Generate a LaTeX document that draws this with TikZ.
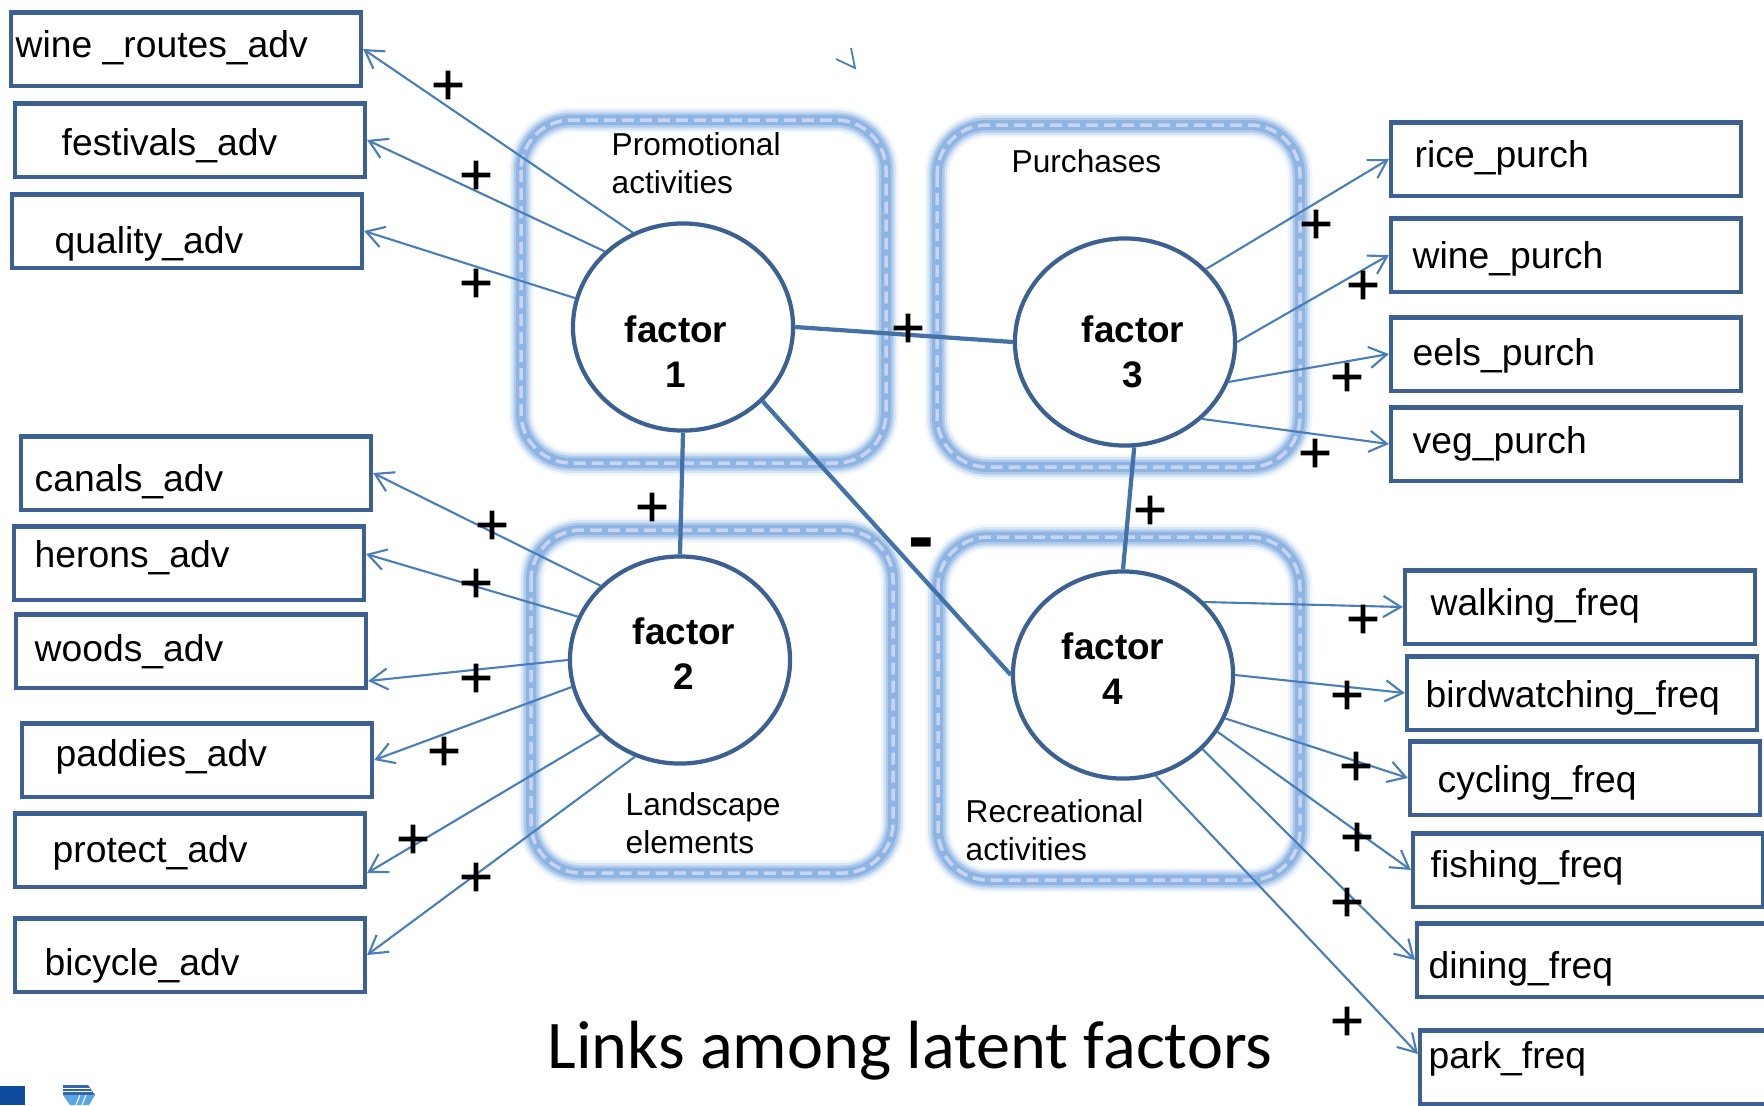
\documentclass[tikz,border=0pt]{standalone}
\usepackage{fontspec}
\setmainfont{Liberation Sans}
\newfontfamily\titlefont{Carlito}
\newfontfamily\signfont[UprightFeatures={FakeBold=2.5}]{DejaVu Sans}
\usetikzlibrary{shapes.geometric}
\usetikzlibrary{arrows.meta}
\usetikzlibrary{calc}
\definecolor{boxblue}{RGB}{60,96,145}
\definecolor{linkblue}{RGB}{74,126,187}
\definecolor{glowblue}{RGB}{141,180,226}
\definecolor{dashblue}{RGB}{200,212,240}
\definecolor{logoblue}{RGB}{14,76,160}
\definecolor{logolight}{RGB}{90,165,230}
\tikzset{itembox/.style={draw=boxblue, line width=1.15pt, minimum width=3.5cm, minimum height=0.73cm, inner sep=0pt},
 itemtext/.style={anchor=base west, inner sep=0pt, font=\fontsize{10.6}{12.7}\selectfont},
 factor/.style={ellipse, draw=boxblue, line width=1.2pt, fill=white, minimum width=2.2cm, minimum height=2.07cm, inner sep=0pt},
 factext/.style={align=center, inner sep=0pt, font=\bfseries\fontsize{10.5}{12.8}\selectfont},
 grouplabel/.style={align=left, inner sep=0pt, font=\fontsize{9}{10.8}\selectfont},
 groupframe/.style={rounded corners=0.5cm,
  preaction={draw=glowblue, opacity=0.12, line width=0.25cm},
  preaction={draw=glowblue, opacity=0.25, line width=0.2cm},
  preaction={draw=glowblue, opacity=0.55, line width=0.15cm},
  draw=glowblue, line width=0.1cm,
  postaction={draw=dashblue, line width=0.035cm, dash pattern=on 0.12cm off 0.06cm}},
 link/.style={draw=linkblue, line width=0.6pt, -{Straight Barb[length=5pt,width=6pt]}},
 tie/.style={draw=linkblue!90!black, line width=1.2pt},
 sign/.style={inner sep=0pt, font=\signfont\fontsize{12.5}{12.5}\selectfont},
 title/.style={anchor=base, inner sep=0pt, font=\titlefont\fontsize{19.4}{22}\selectfont},
 }

\begin{document}
\begin{tikzpicture}[x=0.01cm, y=-0.01cm]
        \useasboundingbox (0, 0) rectangle (1764, 1105);

        \draw[groupframe] (521, 120) rectangle (886, 463);
        \draw[groupframe] (937, 125) rectangle (1300, 467);
        \draw[groupframe] (531, 530) rectangle (893, 873);
        \draw[groupframe] (938, 537) rectangle (1300, 880);

        \node[grouplabel, anchor=north west] (promo) at (611, 132) {Promotional\\activities};
        \node[grouplabel, anchor=base west] (purch) at (1011, 172) {Purchases};
        \node[grouplabel, anchor=north west] (land) at (625, 792) {Landscape\\elements};
        \node[grouplabel, anchor=north west] (recr) at (965, 799) {Recreational\\activities};

        \node[factor] (f1) at (683, 327) {};
        \node[factor] (f2) at (680, 660) {};
        \node[factor] (f3) at (1125, 342) {};
        \node[factor] (f4) at (1123, 675) {};
        \node[factext] (t1) at (676, 352) {factor\\1};
        \node[factext] (t2) at (684, 654) {factor\\2};
        \node[factext] (t3) at (1133, 352) {factor\\3};
        \node[factext] (t4) at (1113, 669) {factor\\4};

        \draw[tie] (f1.east) -- (f3.west);
        \draw[tie] (f1.south) -- (f2.north);
        \draw[tie] (f1.-43) -- (f4.west);
        \draw[tie] (f3.-85) -- (f4.north);

        \node[itembox] (wra) at (186, 49) {};
        \node[itembox] (fes) at (190, 140) {};
        \node[itembox] (qua) at (187, 231) {};
        \node[itembox] (can) at (196, 473) {};
        \node[itembox] (her) at (189, 563) {};
        \node[itembox] (woo) at (191, 651) {};
        \node[itembox] (pad) at (197, 760) {};
        \node[itembox] (pro) at (190, 850) {};
        \node[itembox] (bic) at (190, 955) {};
        \node[itemtext] (wra-t) at (15, 57) {wine \_routes\_adv};
        \node[itemtext] (fes-t) at (61, 155) {festivals\_adv};
        \node[itemtext] (qua-t) at (54, 253) {quality\_adv};
        \node[itemtext] (can-t) at (34, 491) {canals\_adv};
        \node[itemtext] (her-t) at (34, 567) {herons\_adv};
        \node[itemtext] (woo-t) at (34, 661) {woods\_adv};
        \node[itemtext] (pad-t) at (55, 766) {paddies\_adv};
        \node[itemtext] (pro-t) at (52, 862) {protect\_adv};
        \node[itemtext] (bic-t) at (44, 975) {bicycle\_adv};

        \node[itembox] (ric) at (1566, 159) {};
        \node[itembox] (wip) at (1566, 255) {};
        \node[itembox] (eel) at (1566, 354) {};
        \node[itembox] (veg) at (1566, 444) {};
        \node[itembox] (wal) at (1580, 607) {};
        \node[itembox] (bir) at (1582, 693) {};
        \node[itembox] (cyc) at (1585, 778) {};
        \node[itembox] (fis) at (1588, 870) {};
        \node[itembox] (din) at (1592, 960) {};
        \node[itembox] (par) at (1595, 1067) {};
        \node[itemtext] (ric-t) at (1414, 167) {rice\_purch};
        \node[itemtext] (wip-t) at (1412, 268) {wine\_purch};
        \node[itemtext] (eel-t) at (1412, 365) {eels\_purch};
        \node[itemtext] (veg-t) at (1412, 453) {veg\_purch};
        \node[itemtext] (wal-t) at (1430, 615) {walking\_freq};
        \node[itemtext] (bir-t) at (1425, 707) {birdwatching\_freq};
        \node[itemtext] (cyc-t) at (1437, 792) {cycling\_freq};
        \node[itemtext] (fis-t) at (1430, 877) {fishing\_freq};
        \node[itemtext] (din-t) at (1428, 978) {dining\_freq};
        \node[itemtext] (par-t) at (1428, 1068) {park\_freq};

        \draw[link] (f1.118) -- (wra.east);
        \draw[link] (f1.136) -- (fes.east);
        \draw[link] (f1.165) -- (qua.east);
        \draw[link] (f2.137) -- (can.east);
        \draw[link] (f2.157) -- ([yshift=0.09cm]her.east);
        \draw[link] (f2.180) -- ([yshift=-0.3cm]woo.east);
        \draw[link] (f2.194) -- (pad.east);
        \draw[link] (f2.223) -- ([yshift=-0.23cm]pro.east);
        \draw[link] (f2.245) -- (bic.east);
        \draw[link] (f3.42) -- (ric.west);
        \draw[link] (f3.east) -- (wip.west);
        \draw[link] (f3.-21) -- (eel.west);
        \draw[link] (f3.-45) -- (veg.west);
        \draw[link] (f4.42) -- (wal.west);
        \draw[link] (f4.east) -- (bir.west);
        \draw[link] (f4.-23) -- (cyc.west);
        \draw[link] (f4.-31) -- (fis.west);
        \draw[link] (f4.-43) -- (din.west);
        \draw[link] (f4.-72) -- ([yshift=0.13cm]par.west);

        \node[sign] (s1) at (448, 85) {+};
        \node[sign] (s2) at (476, 175) {+};
        \node[sign] (s3) at (476, 283) {+};
        \node[sign] (s4) at (492, 525) {+};
        \node[sign] (s5) at (476, 583) {+};
        \node[sign] (s6) at (476, 678) {+};
        \node[sign] (s7) at (444, 751) {+};
        \node[sign] (s8) at (413, 839) {+};
        \node[sign] (s9) at (476, 877) {+};
        \node[sign] (s10) at (908, 328) {+};
        \node[sign] (s11) at (652, 507) {+};
        \node[sign, font=\bfseries\fontsize{22}{22}\selectfont] (s12) at (921, 550) {-};
        \node[sign] (s13) at (1150, 510) {+};
        \node[sign] (s14) at (1316, 224) {+};
        \node[sign] (s15) at (1363, 285) {+};
        \node[sign] (s16) at (1347, 377) {+};
        \node[sign] (s17) at (1315, 453) {+};
        \node[sign] (s18) at (1363, 619) {+};
        \node[sign] (s19) at (1347, 695) {+};
        \node[sign] (s20) at (1356, 766) {+};
        \node[sign] (s21) at (1357, 837) {+};
        \node[sign] (s22) at (1347, 902) {+};
        \node[sign] (s23) at (1347, 1021) {+};

        \draw[linkblue, line width=0.5pt] (851, 48) -- (855, 68) -- (836, 59);

        \node[title] (ttl) at (910, 1068) {Links among latent factors};

        \fill[logoblue] (0, 1086) rectangle (25, 1105);
        \fill[logoblue!85] (63, 1085) -- (88, 1085) -- (95, 1095) -- (63, 1095) -- cycle;
        \fill[logolight] (63, 1095) -- (95, 1095) -- (89, 1105) -- (70, 1105) -- cycle;
        \draw[white, line width=0.3pt] (63, 1088) -- (90, 1088) (63, 1091.5) -- (92, 1091.5);
        \draw[white, line width=0.3pt] (76, 1105) -- (80, 1095) (82, 1105) -- (86, 1095);
    \end{tikzpicture}
\end{document}
